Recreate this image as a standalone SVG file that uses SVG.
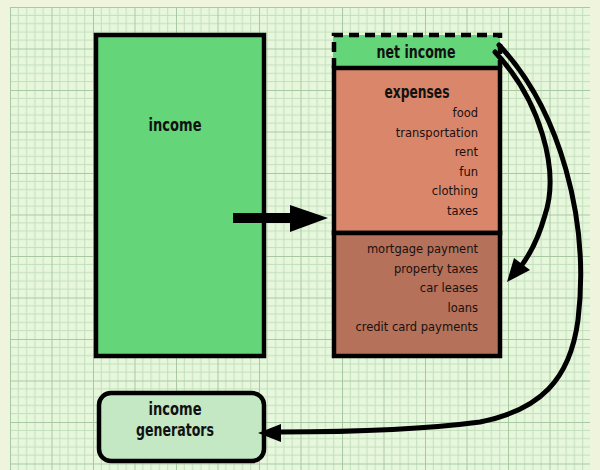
<svg xmlns="http://www.w3.org/2000/svg" width="600" height="470" viewBox="0 0 600 470">
  <defs>
    <pattern id="grid" x="10" y="7" width="41.5" height="41.5" patternUnits="userSpaceOnUse">
      <rect width="41.5" height="41.5" fill="#e6f7dc"/>
      <g stroke="#c4dfbd" stroke-width="1">
        <path d="M8.3 0V41.5M16.6 0V41.5M24.9 0V41.5M33.2 0V41.5"/>
        <path d="M0 8.3H41.5M0 16.6H41.5M0 24.9H41.5M0 33.2H41.5"/>
      </g>
      <path d="M0.5 0V41.5M0 0.5H41.5" stroke="#a9c9a2" stroke-width="1"/>
    </pattern>
    <style>
      .box { stroke: #000; stroke-width: 4.5; }
      .title { font-family: "DejaVu Sans Condensed", "Liberation Sans", sans-serif; font-weight: bold; fill: #111; text-anchor: middle; }
      .item { font-family: "DejaVu Sans", "Noto Sans", sans-serif; font-size: 11.5px; fill: #1a1010; text-anchor: end; }
      .link { fill: none; stroke: #000; stroke-width: 5; stroke-linecap: round; }
    </style>
  </defs>

  <!-- paper and graph grid -->
  <rect width="600" height="470" fill="#eff5dd"/>
  <rect x="10" y="7" width="580" height="463" fill="url(#grid)"/>

  <!-- income -->
  <g id="income">
    <rect class="box" x="96" y="35" width="168" height="321" fill="#64d578"/>
    <text class="title" x="175" y="131" font-size="18" textLength="53" lengthAdjust="spacingAndGlyphs">income</text>
  </g>

  <!-- net income (dashed) -->
  <g id="net-income">
    <rect x="333" y="35" width="167" height="33" fill="#64d578"/>
    <path d="M334 68V35H500V68" fill="none" stroke="#000" stroke-width="4.5" stroke-dasharray="10 6"/>
    <text class="title" x="416" y="58" font-size="17" textLength="79" lengthAdjust="spacingAndGlyphs">net income</text>
  </g>

  <!-- expenses -->
  <g id="expenses">
    <rect class="box" x="334" y="68" width="166" height="165" fill="#d9866a"/>
    <text class="title" x="417" y="98" font-size="18" textLength="65" lengthAdjust="spacingAndGlyphs">expenses</text>
    <text class="item" x="478" y="117">food</text>
    <text class="item" x="478" y="137">transportation</text>
    <text class="item" x="478" y="156">rent</text>
    <text class="item" x="478" y="176">fun</text>
    <text class="item" x="478" y="195">clothing</text>
    <text class="item" x="478" y="215">taxes</text>
  </g>

  <!-- debts -->
  <g id="debts">
    <rect class="box" x="334" y="233" width="166" height="123" fill="#b57159"/>
    <text class="item" x="478" y="253">mortgage payment</text>
    <text class="item" x="478" y="273">property taxes</text>
    <text class="item" x="478" y="292">car leases</text>
    <text class="item" x="478" y="312">loans</text>
    <text class="item" x="478" y="331">credit card payments</text>
  </g>

  <!-- income generators -->
  <g id="income-generators">
    <rect class="box" x="99" y="393" width="165" height="68" rx="12" fill="#c3e8c3"/>
    <text class="title" x="175" y="415" font-size="17" textLength="53" lengthAdjust="spacingAndGlyphs">income</text>
    <text class="title" x="175" y="436" font-size="17" textLength="78" lengthAdjust="spacingAndGlyphs">generators</text>
  </g>

  <!-- connectors -->
  <g id="connectors">
    <path d="M233 218H292" stroke="#000" stroke-width="10"/>
    <path d="M290 205L328 218L290 232z" fill="#000"/>
    <path class="link" d="M495 52C540 100 560 170 545 215C538 240 528 258 518 270"/>
    <path d="M507 282L514 258L530 270z" fill="#000"/>
    <path class="link" d="M499 45C560 110 590 220 578 320C570 380 540 410 480 422C420 430 340 432 280 432"/>
    <path d="M258 433L281 424L281 442z" fill="#000"/>
  </g>
</svg>
